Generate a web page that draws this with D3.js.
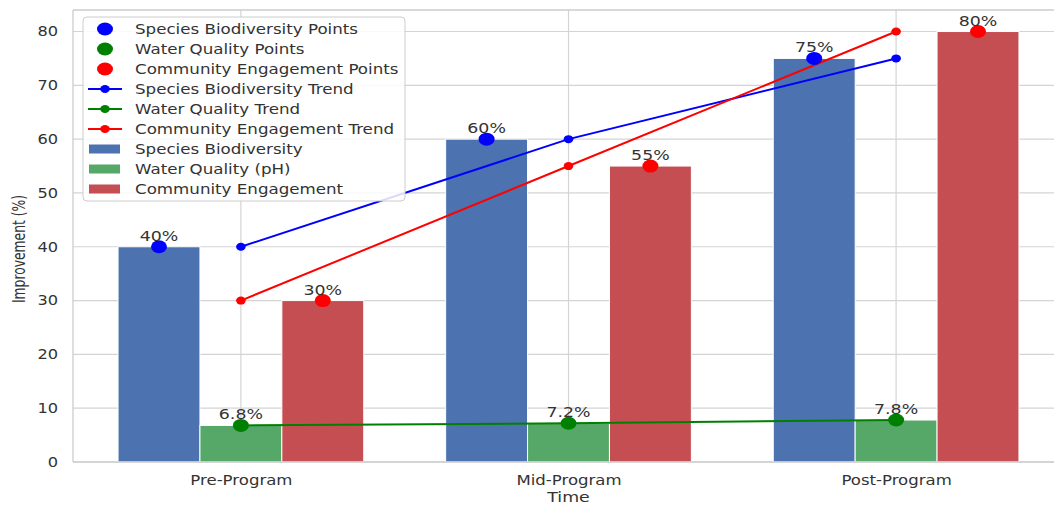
<!DOCTYPE html>
<html>
<head>
<meta charset="utf-8">
<script src="https://cdn.jsdelivr.net/npm/d3@7"></script>
<style>
  body { margin: 0; background: #fff; }
  text { font-family: "DejaVu Sans", sans-serif; fill: #333; }
</style>
</head>
<body>
<div id="chart"></div>
<script>
var phases = ["Pre-Program", "Mid-Program", "Post-Program"];
var biodiversity = [40, 60, 75];
var waterQuality = [6.8, 7.2, 7.8];
var engagement = [30, 55, 80];
var yTicks = [0, 10, 20, 30, 40, 50, 60, 70, 80];

var svgWidth = 1054;
var svgHeight = 506;
var sx = 1.2; // the original picture is stretched a bit sideways

var svg = d3.select("#chart")
    .append("svg")
    .attr("width", svgWidth)
    .attr("height", svgHeight);

// x is a continuous axis in "category units", like matplotlib
var x = d3.scaleLinear()
    .domain([-0.5125, 2.5125])
    .range([73, 1064]);

var y = d3.scaleLinear()
    .domain([0, 84])
    .range([462, 10]);

var barW = 0.25;
var grid = "#d4d4d4";

function label(g, px, py, txt, size, anchor) {
    return g.append("text")
        .attr("transform", `translate(${px},${py}) scale(${sx},1)`)
        .attr("text-anchor", anchor || "start")
        .style("font-size", size + "px")
        .text(txt);
}

// grid
svg.append("g")
    .selectAll("line")
    .data(yTicks)
    .enter()
    .append("line")
    .attr("x1", x(-0.5125))
    .attr("x2", x(2.5125))
    .attr("y1", d => y(d))
    .attr("y2", d => y(d))
    .attr("stroke", grid)
    .attr("stroke-width", 1.2);

svg.append("g")
    .selectAll("line")
    .data(phases)
    .enter()
    .append("line")
    .attr("x1", (d, i) => x(i))
    .attr("x2", (d, i) => x(i))
    .attr("y1", y(0))
    .attr("y2", y(84))
    .attr("stroke", grid)
    .attr("stroke-width", 1.2);

// bars
var barSeries = [
    { name: "Species Biodiversity", values: biodiversity, color: "#4c72b0", off: -barW },
    { name: "Water Quality (pH)", values: waterQuality, color: "#55a868", off: 0 },
    { name: "Community Engagement", values: engagement, color: "#c44e52", off: barW }
];

barSeries.forEach(function (s) {
    svg.append("g")
        .selectAll("rect")
        .data(s.values)
        .enter()
        .append("rect")
        .attr("x", (d, i) => x(i + s.off - barW / 2))
        .attr("width", x(barW) - x(0))
        .attr("y", d => y(d))
        .attr("height", d => y(0) - y(d))
        .attr("fill", s.color)
        .attr("stroke", "#fff")
        .attr("stroke-width", 1);
});

// spines
svg.append("line").attr("x1", x(-0.5125)).attr("x2", x(-0.5125)).attr("y1", y(0)).attr("y2", y(84))
    .attr("stroke", "#cccccc").attr("stroke-width", 1.3);
svg.append("line").attr("x1", x(-0.5125)).attr("x2", x(2.5125)).attr("y1", y(0)).attr("y2", y(0))
    .attr("stroke", "#cccccc").attr("stroke-width", 1.3);
svg.append("line").attr("x1", x(-0.5125)).attr("x2", x(2.5125)).attr("y1", y(84)).attr("y2", y(84))
    .attr("stroke", "#cccccc").attr("stroke-width", 1.3);

// trend lines at category centres
var trends = [
    { name: "Species Biodiversity Trend", values: biodiversity, color: "blue" },
    { name: "Water Quality Trend", values: waterQuality, color: "green" },
    { name: "Community Engagement Trend", values: engagement, color: "red" }
];

var line = d3.line()
    .x((d, i) => x(i))
    .y(d => y(d));

trends.forEach(function (t) {
    svg.append("path")
        .datum(t.values)
        .attr("d", line)
        .attr("fill", "none")
        .attr("stroke", t.color)
        .attr("stroke-width", 2);
    svg.append("g")
        .selectAll("ellipse")
        .data(t.values)
        .enter()
        .append("ellipse")
        .attr("cx", (d, i) => x(i))
        .attr("cy", d => y(d))
        .attr("rx", 4.8)
        .attr("ry", 4)
        .attr("fill", t.color);
});

// big points on the bars, with labels
var points = [
    { name: "Species Biodiversity Points", values: biodiversity, color: "blue", off: -barW, fmt: d => d + "%" },
    { name: "Water Quality Points", values: waterQuality, color: "green", off: 0, fmt: d => d.toFixed(1) + "%" },
    { name: "Community Engagement Points", values: engagement, color: "red", off: barW, fmt: d => d + "%" }
];

points.forEach(function (p) {
    var g = svg.append("g");
    g.selectAll("ellipse")
        .data(p.values)
        .enter()
        .append("ellipse")
        .attr("cx", (d, i) => x(i + p.off))
        .attr("cy", d => y(d))
        .attr("rx", 8)
        .attr("ry", 6.5)
        .attr("fill", p.color);
    p.values.forEach(function (d, i) {
        label(g, x(i + p.off), y(d) - 6, p.fmt(d), 14.5, "middle");
    });
});

// axes
var yAxis = svg.append("g")
    .attr("transform", `translate(${x(-0.5125)},0)`)
    .call(d3.axisLeft(y).tickValues(yTicks).tickSize(0).tickPadding(12.5));
yAxis.select(".domain").remove();
yAxis.selectAll("text")
    .attr("transform", `scale(${sx},1)`)
    .style("font-size", "13.5px").style("fill", "#333");

var xAxis = svg.append("g")
    .attr("transform", `translate(0,${y(0)})`)
    .call(d3.axisBottom(x).tickValues([0, 1, 2]).tickFormat(i => phases[i]).tickSize(0).tickPadding(13.5));
xAxis.select(".domain").remove();
xAxis.selectAll("text")
    .attr("transform", `scale(${sx},1)`)
    .style("font-size", "13.8px").style("fill", "#333");

label(svg, x(1), 501.5, "Time", 14.5, "middle");

svg.append("text")
    .attr("transform", "translate(25,249) rotate(-90) scale(0.85,1.2)")
    .attr("text-anchor", "middle")
    .style("font-size", "14.5px")
    .text("Improvement (%)");

// legend
var legend = svg.append("g");
legend.append("rect")
    .attr("x", 83)
    .attr("y", 17)
    .attr("width", 322)
    .attr("height", 184)
    .attr("rx", 4)
    .attr("fill", "#fff")
    .attr("fill-opacity", 0.85)
    .attr("stroke", "#cccccc");

var rows = [];
points.forEach(p => rows.push({ label: p.name, kind: "point", color: p.color }));
trends.forEach(t => rows.push({ label: t.name, kind: "line", color: t.color }));
barSeries.forEach(b => rows.push({ label: b.name, kind: "bar", color: b.color }));

rows.forEach(function (r, i) {
    var cy = 29 + i * 20;
    if (r.kind === "point") {
        legend.append("ellipse").attr("cx", 105).attr("cy", cy).attr("rx", 8).attr("ry", 6.5).attr("fill", r.color);
    } else if (r.kind === "line") {
        legend.append("line").attr("x1", 88).attr("x2", 122).attr("y1", cy).attr("y2", cy)
            .attr("stroke", r.color).attr("stroke-width", 2);
        legend.append("ellipse").attr("cx", 105).attr("cy", cy).attr("rx", 4.8).attr("ry", 4).attr("fill", r.color);
    } else {
        legend.append("rect").attr("x", 89).attr("y", cy - 4.5).attr("width", 31).attr("height", 9).attr("fill", r.color);
    }
    label(legend, 135, cy + 5, r.label, 13.9);
});
</script>
</body>
</html>
